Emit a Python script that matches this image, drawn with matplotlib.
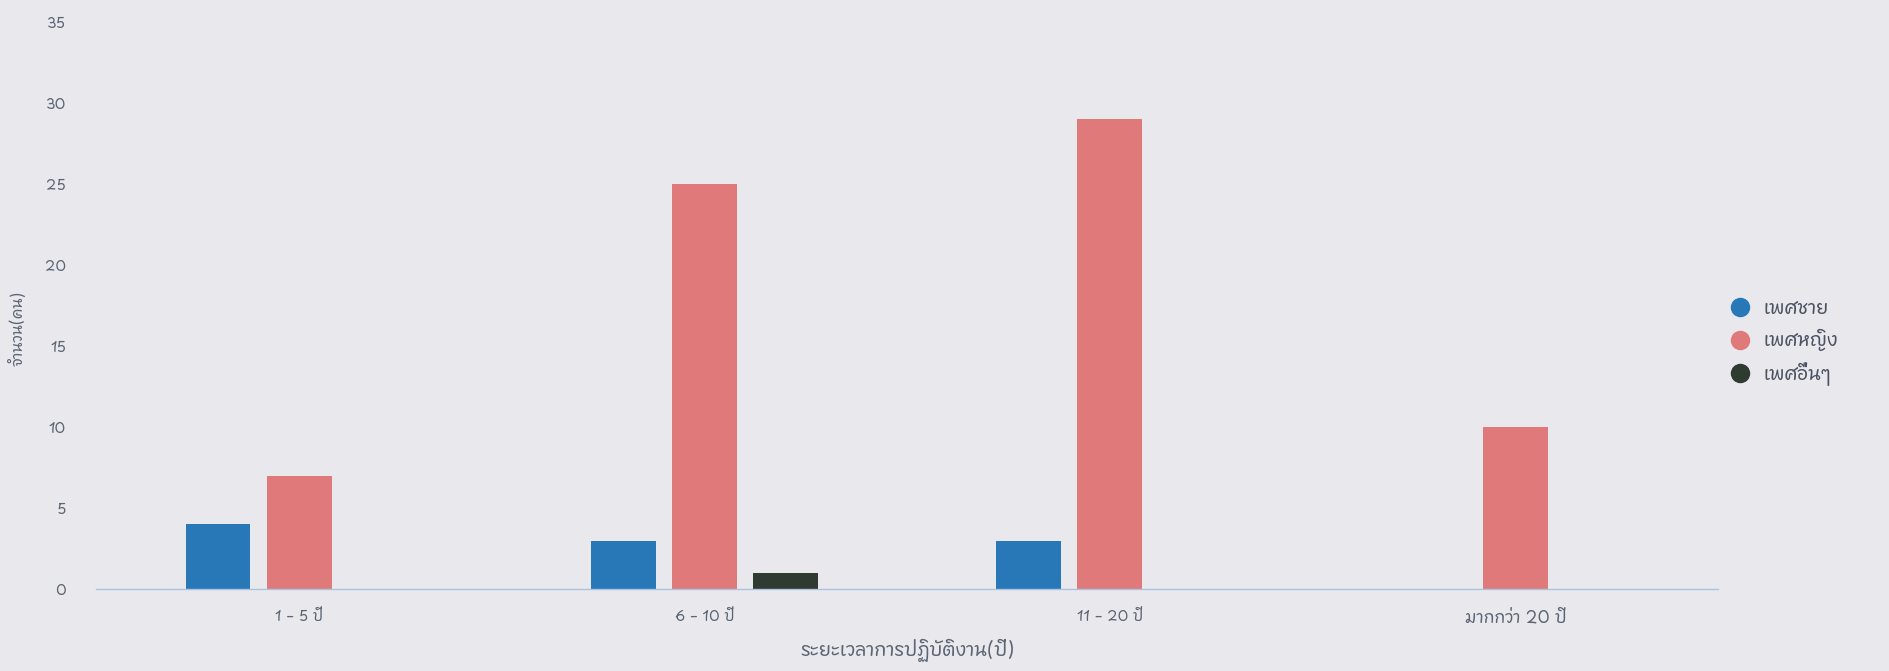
import numpy as np
import matplotlib
matplotlib.use("Agg")
import matplotlib.pyplot as plt
from matplotlib import font_manager
from matplotlib.ft2font import FT2Font

categories = ["1 – 5 ปี", "6 – 10 ปี", "11 – 20 ปี", "มากกว่า 20 ปี"]
series_names = ["เพศชาย", "เพศหญิง", "เพศอื่นๆ"]
male = [4, 3, 3, 0]
female = [7, 25, 29, 10]
other = [0, 1, 0, 0]
colors = ["#2878b8", "#e07a7a", "#2f3a31"]


# find an installed font that has Thai glyphs
def thai_font():
    best = None
    for f in font_manager.fontManager.ttflist:
        try:
            cmap = FT2Font(f.fname).get_charmap()
        except Exception:
            continue
        if ord("ก") in cmap and ord("ญ") in cmap:
            if "Bold" in f.fname or "Italic" in f.fname:
                continue
            if best is None or "Sans" in f.name:
                best = f.name
    return best


tf = thai_font()
fams = [tf, "DejaVu Sans"] if tf else ["DejaVu Sans"]
plt.rcParams["font.family"] = fams

bg = "#e9e9ed"
fig = plt.figure(figsize=(18.9, 6.71), dpi=100, facecolor=bg)
ax = fig.add_axes([0.051, 0.122, 0.858, 0.845], facecolor=bg)

x = np.arange(len(categories))
w = 0.16
offs = [-0.2, 0, 0.2]
for vals, off, c, name in zip([male, female, other], offs, colors, series_names):
    ax.bar(x + off, vals, width=w, color=c, label=name, zorder=2)

ax.set_xlim(-0.5, 3.5)
ax.set_ylim(0, 35)
ax.set_yticks(np.arange(0, 36, 5))
ax.set_xticks(x)
ax.set_xticklabels(categories)
ax.tick_params(length=0, colors="#5b6573", labelsize=10.5)
ax.tick_params(axis="x", pad=14)
ax.tick_params(axis="y", pad=22)
for lbl in ax.get_xticklabels()[3:]:
    lbl.set_fontsize(12)
for s in ["top", "right", "left"]:
    ax.spines[s].set_visible(False)
ax.spines["bottom"].set_color("#a9c2e2")
ax.spines["bottom"].set_linewidth(1)

ax.set_xlabel("ระยะเวลาการปฏิบัติงาน(ปี)", color="#5b6573", fontsize=13.5, labelpad=8)
ax.set_ylabel("จำนวน(คน)", color="#5b6573", fontsize=11)
ax.yaxis.set_label_coords(-0.043, 0.46)

handles = [plt.Line2D([], [], marker="o", ls="", ms=13, color=c) for c in colors]
leg = fig.legend(handles, series_names, loc="center left", bbox_to_anchor=(0.902, 0.49),
                 frameon=False, fontsize=13.5, labelcolor="#4a5260",
                 handletextpad=0.25, labelspacing=0.55)

fig.savefig("out.png", dpi=100, facecolor=bg)
